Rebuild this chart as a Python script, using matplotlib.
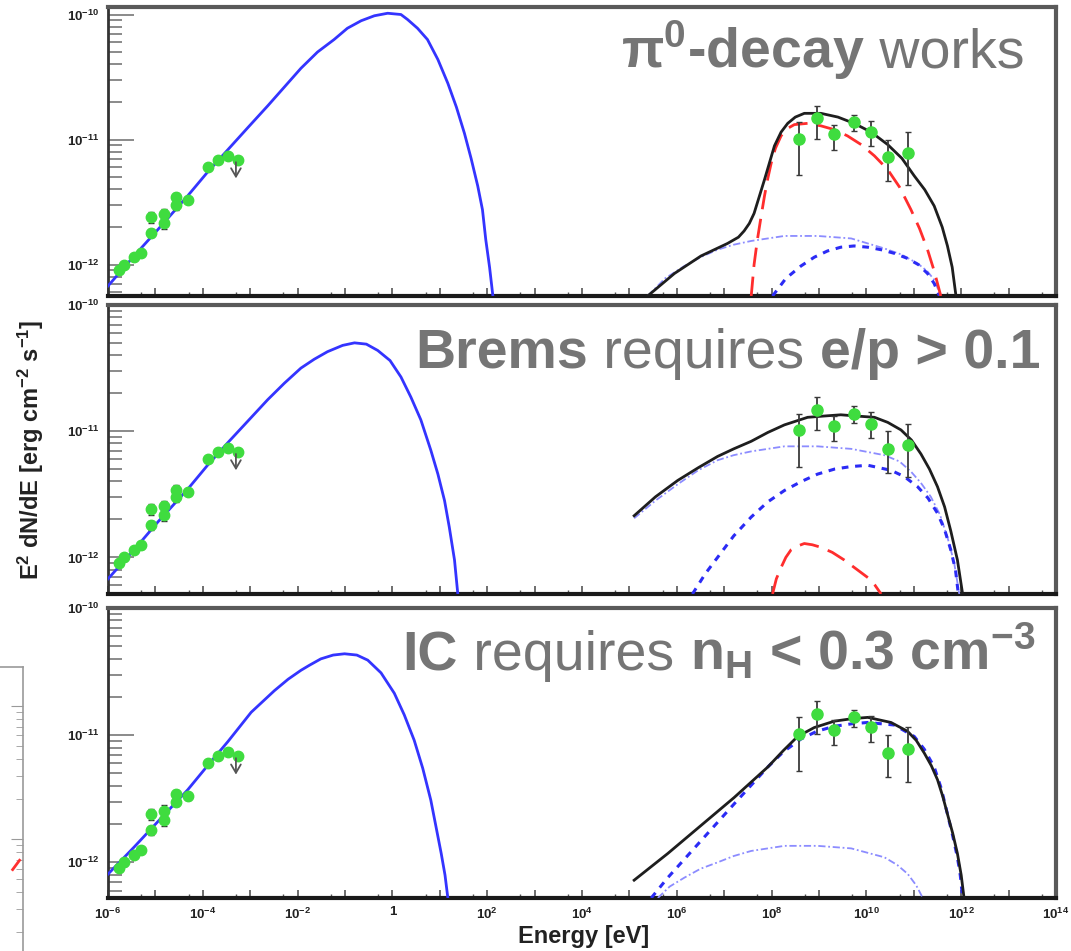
import numpy as np
import matplotlib
matplotlib.use("Agg")
import matplotlib.pyplot as plt
from matplotlib.offsetbox import TextArea, HPacker, AnnotationBbox

plt.rcParams['font.family'] = ['Liberation Sans', 'DejaVu Sans']
plt.rcParams['mathtext.fontset'] = 'custom'
plt.rcParams['mathtext.rm'] = 'Liberation Sans'
plt.rcParams['mathtext.bf'] = 'Liberation Sans:bold'
plt.rcParams['mathtext.it'] = 'Liberation Sans:italic'

# ---------------- measurements ----------------
# radio points: energy [eV], E^2 dN/dE [erg cm^-2 s^-1], relative error
radio_E = np.array([1.7e-6, 2.2e-6, 3.55e-6, 5.0e-6, 8.1e-6, 8.1e-6, 1.5e-5, 1.5e-5,
                    2.7e-5, 2.7e-5, 4.9e-5, 1.29e-4, 2.09e-4, 3.39e-4, 5.5e-4])
radio_F = np.array([9.1e-13, 1.0e-12, 1.15e-12, 1.25e-12, 1.8e-12, 2.4e-12, 2.15e-12, 2.55e-12,
                    3.0e-12, 3.45e-12, 3.3e-12, 6.0e-12, 6.9e-12, 7.4e-12, 6.9e-12])
radio_relerr = np.array([0.06, 0.06, 0.06, 0.06, 0.08, 0.10, 0.10, 0.10,
                         0.08, 0.08, 0.06, 0.05, 0.05, 0.05, 0.05])
# radio upper limit
ul_E = np.array([5.0e-4])
ul_F = np.array([6.6e-12])
ul_low = np.array([4.9e-12])

# gamma-ray points with asymmetric errors
gamma_E = np.array([3.8e8, 9.1e8, 2.1e9, 5.4e9, 1.23e10, 2.9e10, 7.4e10])
gamma_F = np.array([1.02e-11, 1.48e-11, 1.10e-11, 1.38e-11, 1.15e-11, 7.2e-12, 7.8e-12])
gamma_hi = np.array([1.38e-11, 1.86e-11, 1.32e-11, 1.58e-11, 1.41e-11, 1.0e-11, 1.15e-11])
gamma_lo = np.array([5.2e-12, 1.02e-11, 8.3e-12, 1.17e-11, 8.9e-12, 4.7e-12, 4.3e-12])

# ---------------- model curves (log10 E, log10 E^2dN/dE) ----------------
# panel 1: pi0-decay dominated
sync1_lE = [-6.00, -5.45, -4.95, -4.32, -3.90, -3.47, -3.04, -2.63, -2.28, -1.93, -1.58, -1.23, -0.95, -0.66, -0.38,
            -0.10, 0.18, 0.32, 0.53, 0.74, 0.96, 1.17, 1.35, 1.52, 1.66, 1.80, 1.90, 1.97, 2.05, 2.12]
sync1_lF = [-12.17, -11.93, -11.72, -11.45, -11.26, -11.08, -10.90, -10.73, -10.58, -10.43, -10.30, -10.20, -10.11, -10.05, -10.01,
            -9.99, -10.00, -10.04, -10.11, -10.20, -10.36, -10.55, -10.74, -10.95, -11.15, -11.37, -11.56, -11.80, -12.02, -12.25]
tot1_lE = [5.385, 5.95, 6.51, 7.07, 7.30, 7.42, 7.53, 7.63, 7.85, 8.06, 8.20, 8.34, 8.50, 8.69, 9.04,
           9.40, 9.74, 10.10, 10.45, 10.75, 11.01, 11.23, 11.43, 11.60, 11.71, 11.81, 11.89]
tot1_lF = [-12.25, -12.07, -11.93, -11.83, -11.78, -11.73, -11.67, -11.59, -11.32, -11.05, -10.94, -10.87, -10.82, -10.79, -10.79,
           -10.82, -10.87, -10.94, -11.04, -11.15, -11.29, -11.40, -11.53, -11.70, -11.85, -12.02, -12.25]
pi1_lE = [7.57, 7.63, 7.70, 7.78, 7.85, 7.92, 7.99, 8.08, 8.20, 8.34, 8.48, 8.76, 9.04, 9.32, 9.60, 9.89,
          10.17, 10.45, 10.70, 10.94, 11.12, 11.29, 11.43, 11.57]
pi1_lF = [-12.25, -12.00, -11.80, -11.61, -11.45, -11.31, -11.19, -11.07, -10.97, -10.91, -10.88, -10.87, -10.89, -10.92, -10.97, -11.04,
          -11.13, -11.24, -11.38, -11.56, -11.71, -11.88, -12.05, -12.25]
brems1_lE = [5.385, 5.75, 6.16, 6.50, 6.86, 7.20, 7.57, 8.27, 8.97, 9.68, 10.38, 10.75, 11.08, 11.28, 11.43, 11.57]
brems1_lF = [-12.25, -12.11, -12.01, -11.94, -11.88, -11.84, -11.81, -11.77, -11.77, -11.79, -11.87, -11.92, -11.99, -12.05, -12.12, -12.25]
ic1_lE = [8.02, 8.30, 8.62, 8.90, 9.18, 9.46, 9.74, 10.03, 10.31, 10.60, 10.87, 11.10, 11.29, 11.43, 11.54]
ic1_lF = [-12.25, -12.11, -12.01, -11.94, -11.89, -11.86, -11.85, -11.86, -11.88, -11.91, -11.95, -12.00, -12.07, -12.15, -12.25]

# panel 2: bremsstrahlung dominated
sync2_lE = [-6.00, -5.45, -4.95, -4.32, -3.90, -3.47, -3.05, -2.63, -2.28, -1.93, -1.65, -1.37, -1.05, -0.80, -0.55, -0.31,
            -0.05, 0.18, 0.39, 0.60, 0.81, 0.96, 1.10, 1.20, 1.31, 1.38]
sync2_lF = [-12.17, -11.94, -11.72, -11.46, -11.27, -11.09, -10.92, -10.75, -10.62, -10.50, -10.43, -10.37, -10.32, -10.30, -10.31, -10.36,
            -10.44, -10.57, -10.73, -10.91, -11.15, -11.34, -11.55, -11.76, -12.02, -12.29]
tot2_lE = [5.10, 5.55, 6.02, 6.45, 6.86, 7.20, 7.57, 7.92, 8.27, 8.76, 9.10, 9.46, 9.80, 10.17, 10.45, 10.73,
           10.95, 11.15, 11.33, 11.50, 11.65, 11.78, 11.92, 12.03]
tot2_lF = [-11.67, -11.52, -11.39, -11.29, -11.20, -11.14, -11.08, -11.01, -10.95, -10.89, -10.88, -10.87, -10.88, -10.89, -10.93, -10.99,
           -11.07, -11.18, -11.30, -11.44, -11.60, -11.79, -12.02, -12.29]
brems2_lE = [5.10, 5.55, 6.02, 6.45, 6.86, 7.20, 7.57, 8.27, 8.97, 9.68, 10.38, 10.70, 10.94, 11.15, 11.36, 11.55, 11.71, 11.85, 11.96]
brems2_lF = [-11.69, -11.55, -11.42, -11.31, -11.23, -11.19, -11.16, -11.12, -11.12, -11.14, -11.19, -11.24, -11.32, -11.41, -11.52, -11.66, -11.84, -12.04, -12.29]
ic2_lE = [6.33, 6.60, 6.86, 7.20, 7.57, 7.92, 8.27, 8.62, 8.97, 9.33, 9.68, 10.03, 10.52, 10.80, 11.08, 11.30, 11.50, 11.65, 11.78, 11.88, 11.94]
ic2_lF = [-12.29, -12.13, -12.00, -11.83, -11.68, -11.56, -11.47, -11.40, -11.34, -11.30, -11.28, -11.27, -11.31, -11.36, -11.44, -11.53, -11.65, -11.78, -11.94, -12.10, -12.29]
pi2_lE = [8.02, 8.10, 8.20, 8.30, 8.41, 8.55, 8.69, 8.86, 9.04, 9.28, 9.53, 9.78, 10.03, 10.18, 10.31]
pi2_lF = [-12.29, -12.17, -12.08, -12.00, -11.94, -11.91, -11.89, -11.90, -11.92, -11.96, -12.02, -12.09, -12.16, -12.22, -12.29]

# panel 3: inverse-Compton dominated
sync3_lE = [-6.02, -5.45, -4.95, -4.32, -3.90, -3.47, -2.98, -2.49, -2.20, -1.93, -1.75, -1.51, -1.25, -1.01, -0.75, -0.52,
            -0.24, 0.04, 0.25, 0.46, 0.64, 0.81, 0.92, 1.03, 1.11, 1.17]
sync3_lF = [-12.10, -11.88, -11.68, -11.43, -11.24, -11.05, -10.82, -10.65, -10.56, -10.49, -10.45, -10.40, -10.37, -10.36, -10.37, -10.41,
            -10.51, -10.67, -10.84, -11.04, -11.26, -11.51, -11.72, -11.93, -12.10, -12.28]
tot3_lE = [5.10, 5.81, 6.51, 7.21, 7.92, 8.25, 8.55, 8.90, 9.32, 9.70, 10.03, 10.52, 10.87, 11.05, 11.22,
           11.37, 11.50, 11.61, 11.71, 11.82, 11.92, 12.00, 12.06]
tot3_lF = [-12.14, -11.93, -11.71, -11.49, -11.25, -11.12, -11.01, -10.94, -10.89, -10.87, -10.86, -10.90, -10.97, -11.04, -11.14,
           -11.24, -11.35, -11.48, -11.62, -11.77, -11.93, -12.10, -12.28]
ic3_lE = [5.46, 5.81, 6.51, 7.21, 7.92, 8.25, 8.62, 8.95, 9.32, 9.70, 10.03, 10.59, 11.01, 11.22, 11.43,
          11.58, 11.71, 11.82, 11.92, 11.98, 12.03]
ic3_lF = [-12.28, -12.12, -11.83, -11.54, -11.25, -11.13, -11.03, -10.97, -10.93, -10.91, -10.90, -10.92, -11.01, -11.11, -11.25,
          -11.42, -11.62, -11.79, -11.96, -12.10, -12.28]
brems3_lE = [5.60, 5.85, 6.16, 6.50, 6.86, 7.20, 7.57, 8.27, 8.97, 9.68, 10.38, 10.65, 10.87, 11.05, 11.19]
brems3_lF = [-12.28, -12.19, -12.12, -12.05, -12.00, -11.95, -11.91, -11.87, -11.87, -11.89, -11.96, -12.02, -12.09, -12.18, -12.28]

x_decades = list(range(-6, 15))
x_labels = ["1" if n == 0 else "10$^{\\mathbf{%d}}$" % n for n in x_decades]
x_labels = [lab if n % 2 == 0 else "" for lab, n in zip(x_labels, x_decades)]
y_decades = [-12, -11, -10]
y_labels = ["10$^{\\mathbf{-12}}$", "10$^{\\mathbf{-11}}$", "10$^{\\mathbf{-10}}$"]

panel_ylims = [(10**-12.25, 10**-9.94), (10**-12.29, 10**-10.0), (10**-12.28, 10**-10.0)]

# ---------------- styles ----------------
C_SYNC = '#3434ff'
C_TOT = '#1e1e1e'
C_PI = '#ff2d2d'
C_IC = '#2b2bf5'
C_BREMS = '#8c8cff'
C_GREEN = '#3fdc3f'
C_TITLE = '#757575'

W, H = 1071, 951
fig = plt.figure(figsize=(W / 100, H / 100), dpi=100)

# panel rectangles in pixels: left, top, right, bottom
rects = [(108, 7, 1056, 296), (108, 305, 1056, 594), (108, 608, 1056, 898)]
axes = []
for (l, t, r, b) in rects:
    ax = fig.add_axes([l / W, (H - b) / H, (r - l) / W, (b - t) / H])
    axes.append(ax)


def L(v):
    return 10 ** np.asarray(v)


def draw_data(ax):
    for e, f, lo in zip(ul_E, ul_F, ul_low):
        ax.annotate('', xy=(e, lo), xytext=(e, f),
                    arrowprops=dict(arrowstyle='->,head_length=0.6,head_width=0.35',
                                    color='#555555', lw=1.3, shrinkA=0, shrinkB=0), zorder=7)
    ax.errorbar(radio_E, radio_F, yerr=radio_F * radio_relerr, fmt='o', ms=7.5,
                mfc=C_GREEN, mec=C_GREEN, ecolor='#333333', elinewidth=1.0,
                capsize=2, capthick=1.0, zorder=6)
    ax.errorbar(gamma_E, gamma_F, yerr=[gamma_F - gamma_lo, gamma_hi - gamma_F], fmt='o',
                ms=8, mfc=C_GREEN, mec=C_GREEN, ecolor='#3a3a3a', elinewidth=1.3,
                capsize=2.5, capthick=1.0, zorder=6)


def style_axis(ax, ylim, show_xlabels):
    ax.set_xscale('log')
    ax.set_yscale('log')
    ax.set_xlim(1e-6, 1e14)
    ax.set_xticks([10.0 ** n for n in x_decades])
    ax.set_xticklabels(x_labels)
    ax.set_xticks([5 * 10.0 ** n for n in range(-6, 14)], minor=True)
    ax.set_yticks([10.0 ** n for n in y_decades])
    ax.set_yticklabels(y_labels)
    ax.set_yticks([k * 10.0 ** n for n in (-13, -12, -11, -10) for k in range(2, 10)], minor=True)
    ax.set_ylim(*ylim)
    ax.tick_params(axis='x', which='major', direction='in', length=6, width=1.2,
                   color='#555555', top=False, labelsize=9.5, pad=6,
                   labelbottom=show_xlabels)
    ax.tick_params(axis='x', which='minor', direction='in', length=3, width=1.0,
                   color='#555555', top=False)
    ax.tick_params(axis='y', which='major', direction='in', length=19, width=1.2,
                   color='#777777', right=False, labelsize=9.5, pad=6)
    ax.tick_params(axis='y', which='minor', direction='in', length=10, width=1.2,
                   color='#777777', right=False, labelleft=False)
    for lab in ax.get_xticklabels() + ax.get_yticklabels():
        lab.set_fontweight('bold')
        lab.set_color('#222222')
    ax.spines['top'].set_linewidth(3.0)
    ax.spines['top'].set_color('#5a5a5a')
    ax.spines['right'].set_linewidth(3.0)
    ax.spines['right'].set_color('#5a5a5a')
    ax.spines['bottom'].set_linewidth(3.0)
    ax.spines['bottom'].set_color('#1a1a1a')
    ax.spines['left'].set_linewidth(2.0)
    ax.spines['left'].set_color('#333333')


# panel 1
ax = axes[0]
ax.plot(L(sync1_lE), L(sync1_lF), color=C_SYNC, lw=2.0, zorder=3)
ax.plot(L(brems1_lE), L(brems1_lF), color=C_BREMS, lw=1.3, dashes=(4, 1.5, 1, 1.5), zorder=3)
ax.plot(L(ic1_lE), L(ic1_lF), color=C_IC, lw=2.2, dashes=(2.2, 2.2), zorder=3)
ax.plot(L(pi1_lE), L(pi1_lF), color=C_PI, lw=2.0, dashes=(7, 3.5), zorder=3)
ax.plot(L(tot1_lE), L(tot1_lF), color=C_TOT, lw=2.0, zorder=4)

# panel 2
ax = axes[1]
ax.plot(L(sync2_lE), L(sync2_lF), color=C_SYNC, lw=2.0, zorder=3)
ax.plot(L(brems2_lE), L(brems2_lF), color=C_BREMS, lw=1.3, dashes=(4, 1.5, 1, 1.5), zorder=3)
ax.plot(L(ic2_lE), L(ic2_lF), color=C_IC, lw=2.2, dashes=(2.2, 2.2), zorder=3)
ax.plot(L(pi2_lE), L(pi2_lF), color=C_PI, lw=2.0, dashes=(7, 3.5), zorder=3)
ax.plot(L(tot2_lE), L(tot2_lF), color=C_TOT, lw=2.0, zorder=4)

# panel 3
ax = axes[2]
ax.plot(L(sync3_lE), L(sync3_lF), color=C_SYNC, lw=2.0, zorder=3)
ax.plot(L(brems3_lE), L(brems3_lF), color=C_BREMS, lw=1.3, dashes=(4, 1.5, 1, 1.5), zorder=3)
ax.plot(L(ic3_lE), L(ic3_lF), color=C_IC, lw=2.2, dashes=(2.2, 2.2), zorder=3)
ax.plot(L(tot3_lE), L(tot3_lF), color=C_TOT, lw=2.0, zorder=4)

for i, ax in enumerate(axes):
    draw_data(ax)
    style_axis(ax, panel_ylims[i], show_xlabels=(i == 2))

# panel headlines with mixed weights
TFS = 40


def headline(parts):
    areas = []
    for txt, weight in parts:
        areas.append(TextArea(txt, textprops=dict(fontsize=TFS, color=C_TITLE,
                                                  fontweight=weight,
                                                  family=['Liberation Sans', 'DejaVu Sans'])))
    return HPacker(children=areas, align='baseline', pad=0, sep=0)


headlines = [
    ([(r"$\mathbf{\pi^0}$-decay", 'bold'), (" works", 'normal')], (1025, 50)),
    ([("Brems", 'bold'), (" requires ", 'normal'), ("e/p > 0.1", 'bold')], (1040, 354)),
    ([("IC", 'bold'), (" requires ", 'normal'),
      (r"n$_{\mathbf{H}}$ < 0.3 cm$^{\mathbf{-3}}$", 'bold')], (1035, 652)),
]
for ax, (parts, (xr, yc)) in zip(axes, headlines):
    ab = AnnotationBbox(headline(parts), (xr, H - yc), xycoords='figure pixels',
                        box_alignment=(1.0, 0.5), frameon=False, pad=0, zorder=10)
    ax.add_artist(ab)

# axis titles
fig.text(31 / W, 1 - 450 / H,
         r"E$^{\mathbf{2}}$ dN/dE [erg cm$^{\mathbf{-2}}$ s$^{\mathbf{-1}}$]",
         rotation=90, ha='center', va='center', fontsize=17, fontweight='bold',
         color='#222222')
fig.text(584 / W, 1 - 937 / H, "Energy [eV]", ha='center', va='center',
         fontsize=17, fontweight='bold', color='#222222')

# edge of the neighbouring panel on the far left
side_ylim = (10 ** -0.842, 10 ** 1.293)
side_trace_x = [0.55, 0.85]
side_trace_y = [10 ** -0.23, 10 ** -0.16]
sax = fig.add_axes([0, 0, 23 / W, 284 / H])
sax.set_yscale('log')
sax.set_xlim(0, 1)
sax.set_ylim(*side_ylim)
sax.plot(side_trace_x, side_trace_y, color='#ff3030', lw=2.0)
sax.spines['left'].set_visible(False)
sax.spines['bottom'].set_visible(False)
for s in ('top', 'right'):
    sax.spines[s].set_color('#9a9a9a')
    sax.spines[s].set_linewidth(1.2)
sax.set_xticks([])
sax.yaxis.tick_right()
sax.tick_params(axis='y', which='major', direction='in', length=9, color='#9a9a9a',
                labelright=False, labelleft=False)
sax.tick_params(axis='y', which='minor', direction='in', length=5, color='#9a9a9a',
                labelright=False, labelleft=False)
sax.patch.set_alpha(0)

fig.savefig("out.png", dpi=100)
